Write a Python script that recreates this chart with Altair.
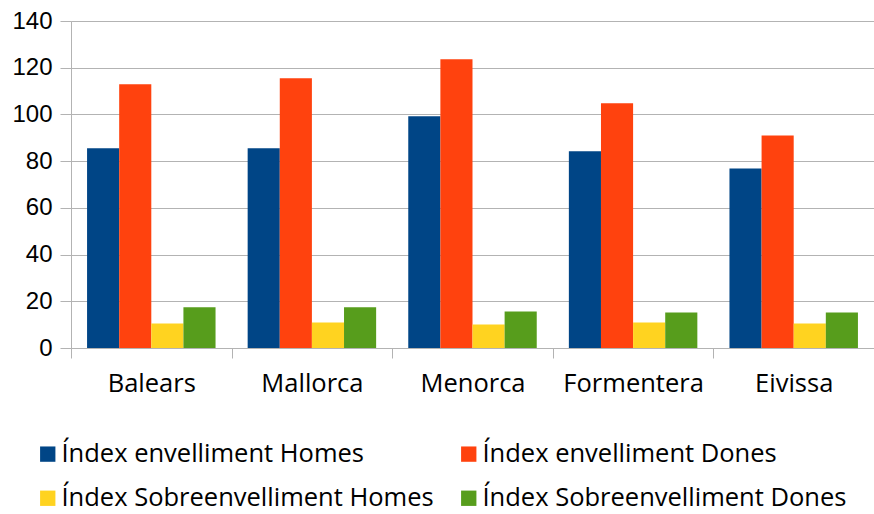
import altair as alt
import pandas as pd

categories = ["Balears", "Mallorca", "Menorca", "Formentera", "Eivissa"]
series = [
    "Índex envelliment Homes",
    "Índex envelliment Dones",
    "Índex Sobreenvelliment Homes",
    "Índex Sobreenvelliment Dones",
]
env_homes = [85.5, 85.5, 99.2, 84.2, 76.9]
env_dones = [112.9, 115.5, 123.6, 104.8, 91.0]
sobre_homes = [10.5, 10.9, 10.1, 10.9, 10.5]
sobre_dones = [17.4, 17.4, 15.6, 15.2, 15.2]
colors = ["#004586", "#ff420e", "#ffd320", "#579d1c"]
y_ticks = [0, 20, 40, 60, 80, 100, 120, 140]

values = [env_homes, env_dones, sobre_homes, sobre_dones]
rows = []
for s, vals in zip(series, values):
    for c, v in zip(categories, vals):
        rows.append({"cat": c, "series": s, "value": v})
df = pd.DataFrame(rows)

chart = (
    alt.Chart(df)
    .mark_bar()
    .encode(
        x=alt.X(
            "cat:N",
            sort=categories,
            title=None,
            scale=alt.Scale(paddingInner=0, paddingOuter=0),
            axis=alt.Axis(
                labelAngle=0,
                labelFont="Open Sans",
                labelFontSize=25.5,
                labelColor="#000000",
                labelPadding=13,
                tickBand="extent",
                tickSize=10,
                tickColor="#b3b3b3",
                domainColor="#b3b3b3",
                grid=False,
            ),
        ),
        xOffset=alt.XOffset(
            "series:N", sort=series, scale=alt.Scale(paddingInner=0, paddingOuter=0.5)
        ),
        y=alt.Y(
            "value:Q",
            title=None,
            scale=alt.Scale(domain=[0, 140], nice=False),
            axis=alt.Axis(
                values=y_ticks,
                labelFont="Liberation Sans",
                labelFontSize=24,
                labelColor="#000000",
                labelPadding=8,
                tickSize=11,
                tickColor="#b3b3b3",
                domainColor="#b3b3b3",
                gridColor="#b3b3b3",
            ),
        ),
        color=alt.Color(
            "series:N",
            sort=series,
            scale=alt.Scale(domain=series, range=colors),
            legend=alt.Legend(
                title=None,
                orient="none",
                legendX=-36,
                legendY=420,
                columns=2,
                direction="horizontal",
                symbolType="square",
                symbolSize=235,
                symbolStrokeWidth=0,
                symbolOpacity=1,
                labelFont="Open Sans",
                labelFontSize=25.5,
                labelColor="#000000",
                labelLimit=600,
                labelOffset=1,
                columnPadding=22,
                rowPadding=17.5,
                padding=0,
            ),
        ),
    )
    .properties(
        width=803,
        height=327,
        padding={"left": 71, "top": 21, "right": 0, "bottom": 166},
        autosize=alt.AutoSizeParams(type="none"),
    )
    .configure_view(stroke=None)
    .configure(background="white")
)

chart.save("out.html", embed_options={"renderer": "svg", "actions": False})
